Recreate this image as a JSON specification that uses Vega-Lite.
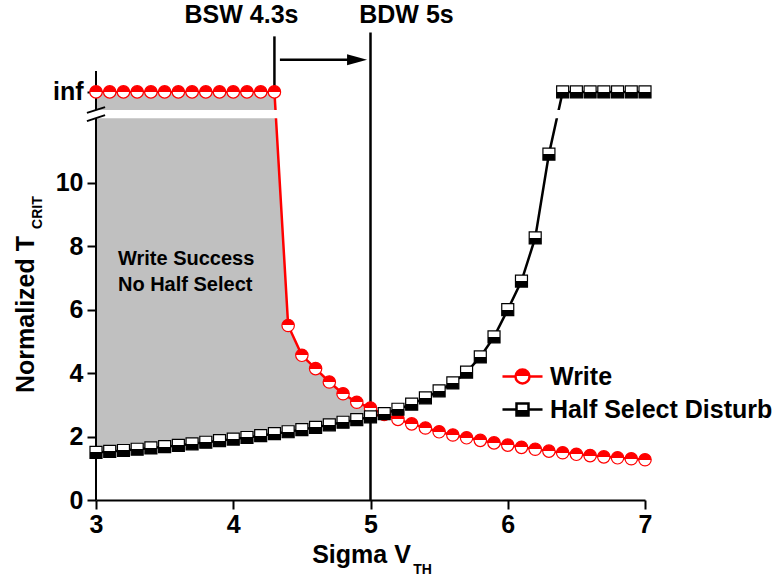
{
  "$schema": "https://vega.github.io/schema/vega-lite/v6.json",
  "width": 549,
  "height": 476,
  "autosize": {"type": "none"},
  "padding": {"left": 96, "top": 24, "right": 138, "bottom": 78},
  "background": "white",
  "config": {"view": {"stroke": null}, "font": "Liberation Sans"},
  "datasets": {
    "curves": [
      {"sigma": 3.0, "series": "Write", "t": 12.86},
      {"sigma": 3.1, "series": "Write", "t": 12.86},
      {"sigma": 3.2, "series": "Write", "t": 12.86},
      {"sigma": 3.3, "series": "Write", "t": 12.86},
      {"sigma": 3.4, "series": "Write", "t": 12.86},
      {"sigma": 3.5, "series": "Write", "t": 12.86},
      {"sigma": 3.6, "series": "Write", "t": 12.86},
      {"sigma": 3.7, "series": "Write", "t": 12.86},
      {"sigma": 3.8, "series": "Write", "t": 12.86},
      {"sigma": 3.9, "series": "Write", "t": 12.86},
      {"sigma": 4.0, "series": "Write", "t": 12.86},
      {"sigma": 4.1, "series": "Write", "t": 12.86},
      {"sigma": 4.2, "series": "Write", "t": 12.86},
      {"sigma": 4.3, "series": "Write", "t": 12.86},
      {"sigma": 4.4, "series": "Write", "t": 5.5},
      {"sigma": 4.5, "series": "Write", "t": 4.56},
      {"sigma": 4.6, "series": "Write", "t": 4.14},
      {"sigma": 4.7, "series": "Write", "t": 3.72},
      {"sigma": 4.8, "series": "Write", "t": 3.35},
      {"sigma": 4.9, "series": "Write", "t": 3.08},
      {"sigma": 5.0, "series": "Write", "t": 2.9},
      {"sigma": 5.1, "series": "Write", "t": 2.7},
      {"sigma": 5.2, "series": "Write", "t": 2.54},
      {"sigma": 5.3, "series": "Write", "t": 2.4},
      {"sigma": 5.4, "series": "Write", "t": 2.27},
      {"sigma": 5.5, "series": "Write", "t": 2.15},
      {"sigma": 5.6, "series": "Write", "t": 2.05},
      {"sigma": 5.7, "series": "Write", "t": 1.96},
      {"sigma": 5.8, "series": "Write", "t": 1.88},
      {"sigma": 5.9, "series": "Write", "t": 1.8},
      {"sigma": 6.0, "series": "Write", "t": 1.73},
      {"sigma": 6.1, "series": "Write", "t": 1.66},
      {"sigma": 6.2, "series": "Write", "t": 1.6},
      {"sigma": 6.3, "series": "Write", "t": 1.54},
      {"sigma": 6.4, "series": "Write", "t": 1.49},
      {"sigma": 6.5, "series": "Write", "t": 1.44},
      {"sigma": 6.6, "series": "Write", "t": 1.4},
      {"sigma": 6.7, "series": "Write", "t": 1.36},
      {"sigma": 6.8, "series": "Write", "t": 1.33},
      {"sigma": 6.9, "series": "Write", "t": 1.3},
      {"sigma": 7.0, "series": "Write", "t": 1.27},
      {"sigma": 3.0, "series": "Half Select Disturb", "t": 1.5},
      {"sigma": 3.1, "series": "Half Select Disturb", "t": 1.53},
      {"sigma": 3.2, "series": "Half Select Disturb", "t": 1.56},
      {"sigma": 3.3, "series": "Half Select Disturb", "t": 1.6},
      {"sigma": 3.4, "series": "Half Select Disturb", "t": 1.64},
      {"sigma": 3.5, "series": "Half Select Disturb", "t": 1.68},
      {"sigma": 3.6, "series": "Half Select Disturb", "t": 1.72},
      {"sigma": 3.7, "series": "Half Select Disturb", "t": 1.77},
      {"sigma": 3.8, "series": "Half Select Disturb", "t": 1.82},
      {"sigma": 3.9, "series": "Half Select Disturb", "t": 1.87},
      {"sigma": 4.0, "series": "Half Select Disturb", "t": 1.92},
      {"sigma": 4.1, "series": "Half Select Disturb", "t": 1.97},
      {"sigma": 4.2, "series": "Half Select Disturb", "t": 2.03},
      {"sigma": 4.3, "series": "Half Select Disturb", "t": 2.09},
      {"sigma": 4.4, "series": "Half Select Disturb", "t": 2.15},
      {"sigma": 4.5, "series": "Half Select Disturb", "t": 2.22},
      {"sigma": 4.6, "series": "Half Select Disturb", "t": 2.29},
      {"sigma": 4.7, "series": "Half Select Disturb", "t": 2.37},
      {"sigma": 4.8, "series": "Half Select Disturb", "t": 2.45},
      {"sigma": 4.9, "series": "Half Select Disturb", "t": 2.53},
      {"sigma": 5.0, "series": "Half Select Disturb", "t": 2.62},
      {"sigma": 5.1, "series": "Half Select Disturb", "t": 2.72},
      {"sigma": 5.2, "series": "Half Select Disturb", "t": 2.86},
      {"sigma": 5.3, "series": "Half Select Disturb", "t": 3.02},
      {"sigma": 5.4, "series": "Half Select Disturb", "t": 3.22},
      {"sigma": 5.5, "series": "Half Select Disturb", "t": 3.44},
      {"sigma": 5.6, "series": "Half Select Disturb", "t": 3.69},
      {"sigma": 5.7, "series": "Half Select Disturb", "t": 4.03},
      {"sigma": 5.8, "series": "Half Select Disturb", "t": 4.51},
      {"sigma": 5.9, "series": "Half Select Disturb", "t": 5.14},
      {"sigma": 6.0, "series": "Half Select Disturb", "t": 6.0},
      {"sigma": 6.1, "series": "Half Select Disturb", "t": 6.9},
      {"sigma": 6.2, "series": "Half Select Disturb", "t": 8.26},
      {"sigma": 6.3, "series": "Half Select Disturb", "t": 10.9},
      {"sigma": 6.4, "series": "Half Select Disturb", "t": 12.86},
      {"sigma": 6.5, "series": "Half Select Disturb", "t": 12.86},
      {"sigma": 6.6, "series": "Half Select Disturb", "t": 12.86},
      {"sigma": 6.7, "series": "Half Select Disturb", "t": 12.86},
      {"sigma": 6.8, "series": "Half Select Disturb", "t": 12.86},
      {"sigma": 6.9, "series": "Half Select Disturb", "t": 12.86},
      {"sigma": 7.0, "series": "Half Select Disturb", "t": 12.86}
    ]
  },
  "encoding": {
    "x": {
      "field": "sigma",
      "type": "quantitative",
      "scale": {"domain": [3, 7], "nice": false, "zero": false},
      "axis": {
        "title": "Sigma V",
        "values": [3, 3.5, 4, 4.5, 5, 5.5, 6, 6.5, 7],
        "format": "d",
        "labelExpr": "datum.value % 1 === 0 ? datum.label : ''",
        "grid": false,
        "domainColor": "#000000",
        "domainWidth": 2,
        "tickColor": "#000000",
        "tickWidth": 2,
        "tickSize": {"condition": {"test": "datum.value % 1 === 0", "value": 9}, "value": 5},
        "labelFont": "Liberation Sans",
        "labelFontSize": 25,
        "labelFontWeight": "bold",
        "labelColor": "#000000",
        "labelPadding": 3,
        "labelFlush": false,
        "labelOverlap": false,
        "titleFont": "Liberation Sans",
        "titleFontSize": 25,
        "titleFontWeight": "bold",
        "titleColor": "#000000",
        "titleX": 265,
        "titleY": 62,
        "titleBaseline": "alphabetic",
        "titleAlign": "center"
      }
    },
    "y": {
      "field": "t",
      "type": "quantitative",
      "scale": {"domain": [0, 15], "nice": false, "zero": false},
      "axis": {
        "title": "Normalized T",
        "values": [0, 2, 4, 6, 8, 10, 12.86],
        "labelExpr": "datum.value > 12 ? 'inf' : datum.label",
        "domain": false,
        "grid": false,
        "tickColor": "#000000",
        "tickWidth": 2,
        "tickSize": 9,
        "labelFont": "Liberation Sans",
        "labelFontSize": 25,
        "labelFontWeight": "bold",
        "labelColor": "#000000",
        "labelPadding": 4,
        "labelOverlap": false,
        "titleFont": "Liberation Sans",
        "titleFontSize": 25,
        "titleFontWeight": "bold",
        "titleColor": "#000000",
        "titleX": -63,
        "titleY": 290,
        "titleAngle": 270,
        "titleBaseline": "alphabetic",
        "titleAlign": "center"
      }
    }
  },
  "layer": [
    {
      "data": {"values": [{"sigma": 3, "sigma2": 3, "t": 0, "t2": 13.52}]},
      "mark": {"type": "rule", "color": "#000000", "strokeWidth": 2},
      "encoding": {"x2": {"field": "sigma2"}, "y2": {"field": "t2"}}
    },
    {
      "data": {"name": "curves"},
      "transform": [
        {"pivot": "series", "value": "t", "groupby": ["sigma"]},
        {"filter": "datum.sigma <= 5.001"}
      ],
      "mark": {"type": "area", "color": "#c0c0c0", "opacity": 1},
      "encoding": {
        "y": {
          "field": "Half Select Disturb",
          "type": "quantitative",
          "scale": {"domain": [0, 15], "nice": false, "zero": false},
          "axis": {
            "title": "Normalized T",
            "values": [0, 2, 4, 6, 8, 10, 12.86],
            "labelExpr": "datum.value > 12 ? 'inf' : datum.label",
            "domain": false,
            "grid": false,
            "tickColor": "#000000",
            "tickWidth": 2,
            "tickSize": 9,
            "labelFont": "Liberation Sans",
            "labelFontSize": 25,
            "labelFontWeight": "bold",
            "labelColor": "#000000",
            "labelPadding": 4,
            "labelOverlap": false,
            "titleFont": "Liberation Sans",
            "titleFontSize": 25,
            "titleFontWeight": "bold",
            "titleColor": "#000000",
            "titleX": -63,
            "titleY": 290,
            "titleAngle": 270,
            "titleBaseline": "alphabetic",
            "titleAlign": "center"
          }
        },
        "y2": {"field": "Write"}
      }
    },
    {
      "data": {"values": [{"sigma": 3, "sigma2": 3, "t": 0, "t2": 13.52}]},
      "mark": {"type": "rule", "color": "#000000", "strokeWidth": 2},
      "encoding": {"x2": {"field": "sigma2"}, "y2": {"field": "t2"}}
    },
    {
      "data": {"name": "curves"},
      "mark": {"type": "line", "strokeWidth": 2.5},
      "encoding": {
        "stroke": {
          "field": "series",
          "type": "nominal",
          "scale": {"domain": ["Write", "Half Select Disturb"], "range": ["#ff0000", "#000000"]},
          "legend": {
            "orient": "none",
            "legendX": 414,
            "legendY": 340,
            "title": null,
            "padding": 0,
            "labelFont": "Liberation Sans",
            "labelFontSize": 25,
            "labelFontWeight": "bold",
            "labelColor": "#000000",
            "labelOffset": 15,
            "labelLimit": 0,
            "symbolSize": 196,
            "symbolStrokeWidth": 2.5,
            "rowPadding": 7,
            "encode": {
              "symbols": {
                "update": {
                  "shape": {"signal": "datum.value === 'Write' ? 'M -2.86 0 L -1 0 M 1 0 L 2.86 0 M -1 0 A 1 1 0 1 1 1 0 A 1 1 0 1 1 -1 0 Z' : 'M -2.86 0 L -0.857 0 M 0.857 0 L 2.86 0 M -0.857 -0.857 L 0.857 -0.857 L 0.857 0.857 L -0.857 0.857 Z'"},
                  "fill": {"signal": "datum.value === 'Write' ? {gradient: 'linear', x1: 1, y1: 0, x2: 1, y2: 1, stops: [{offset: 0, color: '#ff0000'}, {offset: 0.5, color: '#ff0000'}, {offset: 0.5, color: '#ffffff'}, {offset: 1, color: '#ffffff'}]} : {gradient: 'linear', x1: 1, y1: 0, x2: 1, y2: 1, stops: [{offset: 0, color: '#ffffff'}, {offset: 0.5, color: '#ffffff'}, {offset: 0.5, color: '#000000'}, {offset: 1, color: '#000000'}]}"},
                  "size": {"value": 196},
                  "strokeWidth": {"value": 2.5},
                  "opacity": {"value": 1},
                  "fillOpacity": {"value": 1}
                }
              }
            }
          }
        }
      }
    },
    {
      "data": {"values": [{"sigma": 2.985, "sigma2": 7, "t": 12.03, "t2": 12.29}]},
      "mark": {"type": "rect", "color": "#ffffff", "opacity": 1},
      "encoding": {"x2": {"field": "sigma2"}, "y2": {"field": "t2"}}
    },
    {
      "data": {"values": [
        {"sigma": 2.934, "sigma2": 3.066, "t": 11.94, "t2": 12.13},
        {"sigma": 2.934, "sigma2": 3.066, "t": 12.2, "t2": 12.38}
      ]},
      "mark": {"type": "rule", "color": "#000000", "strokeWidth": 2},
      "encoding": {"x2": {"field": "sigma2"}, "y2": {"field": "t2"}}
    },
    {
      "data": {"values": [
        {"sigma": 4.3, "sigma2": 4.3, "t": 12.86, "t2": 14.61},
        {"sigma": 5, "sigma2": 5, "t": 0, "t2": 14.73},
        {"sigma": 4.34, "sigma2": 4.85, "t": 13.87, "t2": 13.87}
      ]},
      "mark": {"type": "rule", "color": "#000000", "strokeWidth": 2.5},
      "encoding": {"x2": {"field": "sigma2"}, "y2": {"field": "t2"}}
    },
    {
      "data": {"values": [{"sigma": 4.902, "t": 13.87}]},
      "mark": {"type": "point", "shape": "M -1 -0.55 L 1 0 L -1 0.55 Z", "size": 400, "filled": true, "color": "#000000", "opacity": 1, "strokeWidth": 0}
    },
    {
      "data": {"name": "curves"},
      "transform": [{"filter": "datum.series === 'Write'"}],
      "mark": {
        "type": "point",
        "shape": "circle",
        "size": 154,
        "filled": true,
        "opacity": 1,
        "strokeWidth": 1.2,
        "fill": {"gradient": "linear", "x1": 1, "y1": 0, "x2": 1, "y2": 1, "stops": [
          {"offset": 0, "color": "#ff0000"}, {"offset": 0.5, "color": "#ff0000"},
          {"offset": 0.5, "color": "#ffffff"}, {"offset": 1, "color": "#ffffff"}
        ]}
      },
      "encoding": {
        "stroke": {"field": "series", "type": "nominal", "scale": {"domain": ["Write", "Half Select Disturb"], "range": ["#ff0000", "#000000"]}}
      }
    },
    {
      "data": {"name": "curves"},
      "transform": [{"filter": "datum.series === 'Half Select Disturb'"}],
      "mark": {
        "type": "point",
        "shape": "square",
        "size": 144,
        "filled": true,
        "opacity": 1,
        "strokeWidth": 1.2,
        "fill": {"gradient": "linear", "x1": 1, "y1": 0, "x2": 1, "y2": 1, "stops": [
          {"offset": 0, "color": "#ffffff"}, {"offset": 0.5, "color": "#ffffff"},
          {"offset": 0.5, "color": "#000000"}, {"offset": 1, "color": "#000000"}
        ]}
      },
      "encoding": {
        "stroke": {"field": "series", "type": "nominal", "scale": {"domain": ["Write", "Half Select Disturb"], "range": ["#ff0000", "#000000"]}}
      }
    },
    {
      "data": {"values": [
        {"sigma": 4.06, "t": 15.28, "label": "BSW 4.3s"},
        {"sigma": 5.262, "t": 15.28, "label": "BDW 5s"}
      ]},
      "mark": {"type": "text", "font": "Liberation Sans", "fontSize": 25, "fontWeight": "bold", "color": "#000000", "align": "center", "baseline": "middle"},
      "encoding": {"text": {"field": "label"}}
    },
    {
      "data": {"values": [{"sigma": 3.16, "t": 7.6, "label": "Write Success\nNo Half Select"}]},
      "mark": {"type": "text", "font": "Liberation Sans", "fontSize": 20, "fontWeight": "bold", "color": "#000000", "align": "left", "baseline": "middle", "lineBreak": "\n", "lineHeight": 26},
      "encoding": {"text": {"field": "label"}}
    },
    {
      "data": {"values": [{"sigma": 5.379, "t": -2.2, "label": "TH"}]},
      "mark": {"type": "text", "font": "Liberation Sans", "fontSize": 14, "fontWeight": "bold", "color": "#000000", "align": "center", "baseline": "middle"},
      "encoding": {"text": {"field": "label"}}
    },
    {
      "data": {"values": [{"sigma": 2.577, "t": 9.055, "label": "CRIT"}]},
      "mark": {"type": "text", "font": "Liberation Sans", "fontSize": 14, "fontWeight": "bold", "color": "#000000", "align": "center", "baseline": "middle", "angle": 270},
      "encoding": {"text": {"field": "label"}}
    }
  ]
}
